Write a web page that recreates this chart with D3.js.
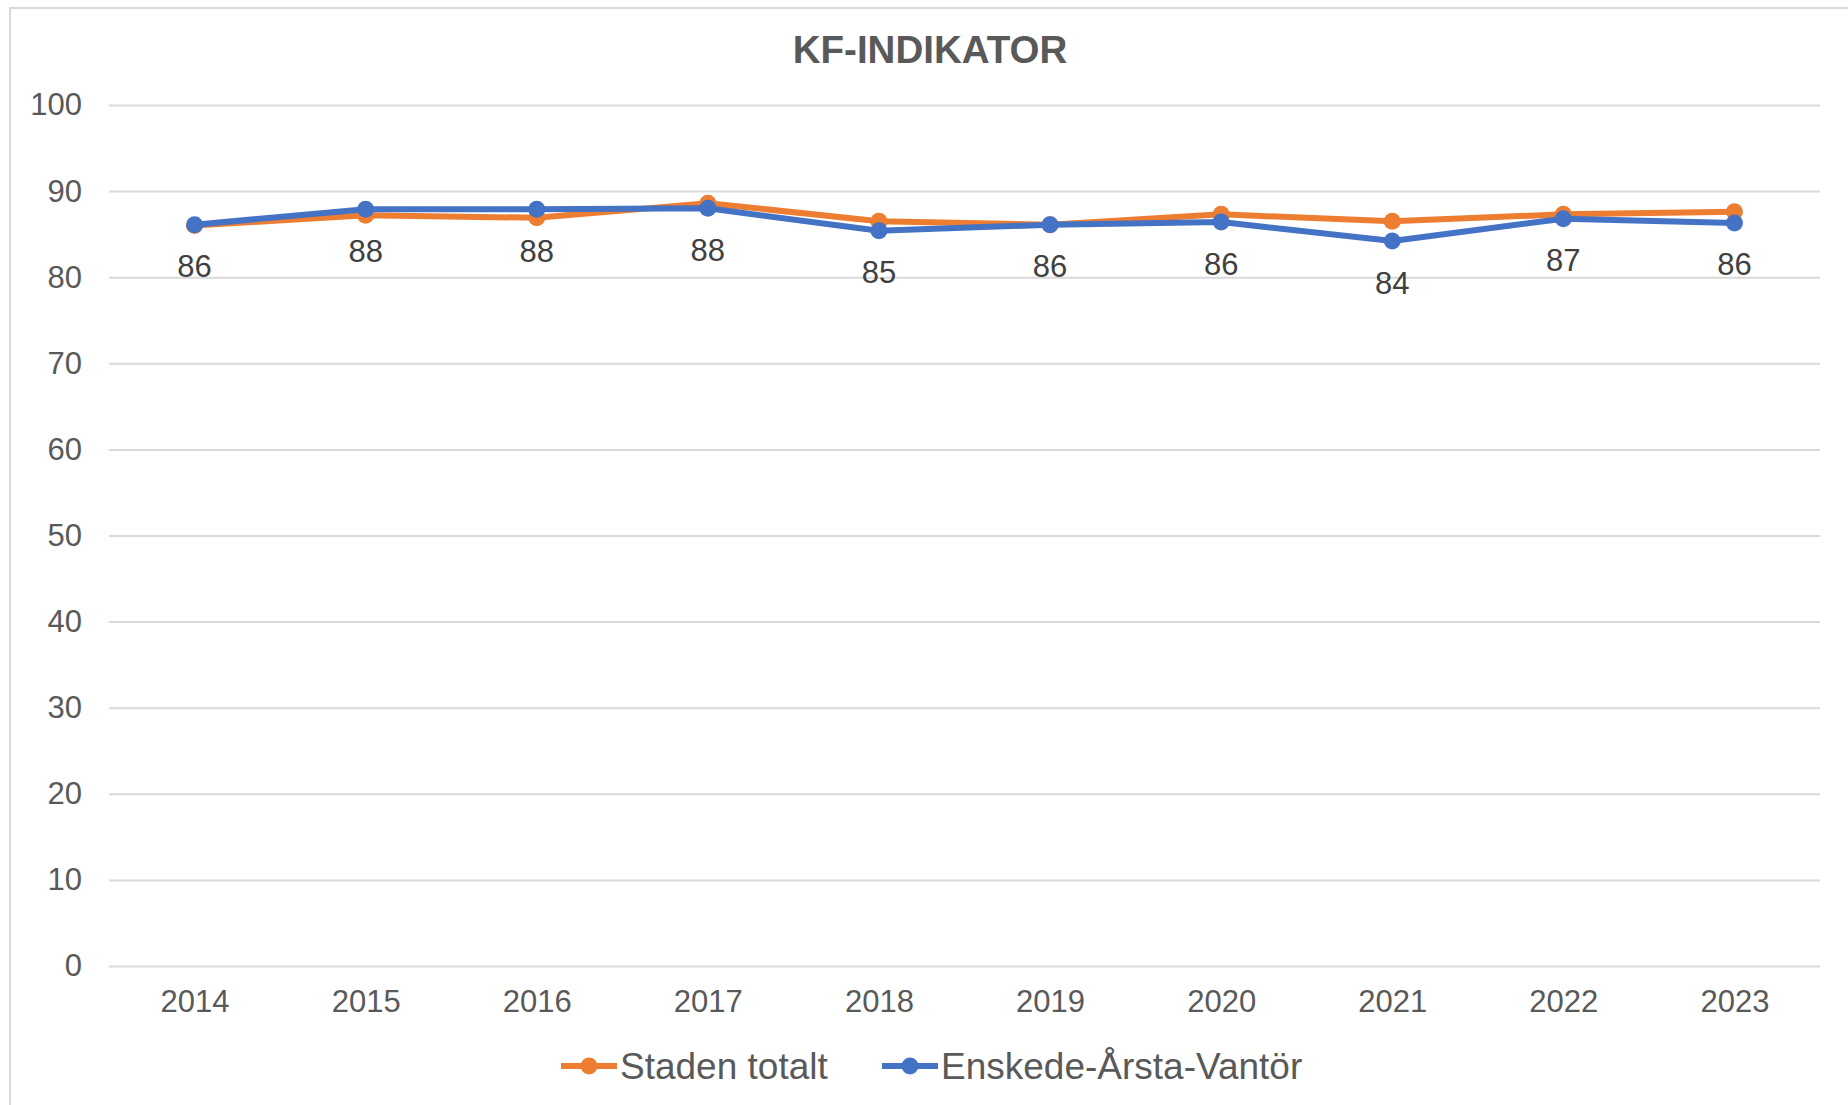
<!DOCTYPE html>
<html>
<head>
<meta charset="utf-8">
<script src="https://cdn.jsdelivr.net/npm/d3@7"></script>
<style>
  html, body { margin: 0; padding: 0; background: #fff; }
  svg { display: block; font-family: 'Liberation Sans', Arial, sans-serif; }
</style>
</head>
<body>
<div id="chart-container"></div>
<script>
// data
const years = ['2014', '2015', '2016', '2017', '2018', '2019', '2020', '2021', '2022', '2023']
const stadenTotalt = [86.0, 87.2, 86.9, 88.6, 86.5, 86.1, 87.3, 86.5, 87.3, 87.6]
const enskede = [86.1, 87.9, 87.9, 88.0, 85.4, 86.1, 86.4, 84.2, 86.8, 86.3]
const yTicks = [0, 10, 20, 30, 40, 50, 60, 70, 80, 90, 100]

const seriesList = [
  { name: 'Staden totalt', values: stadenTotalt, color: '#ED7D31', labels: false },
  { name: 'Enskede-Årsta-Vantör', values: enskede, color: '#4472C4', labels: true },
]

const viewBoxWidth = 1848
const viewBoxHeight = 1105

const plotLeft = 109
const plotRight = 1820
const plotTop = 105
const plotBottom = 966

const svg = d3
  .select('#chart-container')
  .append('svg')
  .attr('width', viewBoxWidth)
  .attr('height', viewBoxHeight)
  .attr('viewBox', `0 0 ${viewBoxWidth} ${viewBoxHeight}`)

// chart frame (only top and left edges visible in the picture)
svg
  .append('rect')
  .attr('x', 10)
  .attr('y', 8)
  .attr('width', viewBoxWidth)
  .attr('height', viewBoxHeight)
  .attr('fill', 'white')
  .attr('stroke', '#d9d9d9')
  .attr('stroke-width', 2)

const x = d3.scalePoint().domain(years).range([plotLeft, plotRight]).padding(0.5)
const y = d3.scaleLinear().domain([0, 100]).range([plotBottom, plotTop])

// title
svg
  .append('text')
  .attr('x', 930)
  .attr('y', 49)
  .attr('text-anchor', 'middle')
  .attr('dominant-baseline', 'central')
  .attr('font-size', 38.5)
  .attr('font-weight', 'bold')
  .attr('fill', '#595959')
  .text('KF-INDIKATOR')

// gridlines + y labels
const yAxis = d3
  .axisLeft(y)
  .tickValues(yTicks)
  .tickSize(-(plotRight - plotLeft))
  .tickPadding(27)

svg
  .append('g')
  .attr('transform', `translate(${plotLeft},0)`)
  .call(yAxis)
  .call(g => g.select('.domain').remove())
  .call(g => g.selectAll('.tick line').attr('stroke', '#d9d9d9').attr('stroke-width', 2))
  .call(g =>
    g
      .selectAll('.tick text')
      .attr('font-size', 31)
      .attr('fill', '#595959')
      .attr('font-family', "'Liberation Sans', Arial, sans-serif"),
  )

// x labels
const xAxis = d3.axisBottom(x).tickSize(0).tickPadding(24)

svg
  .append('g')
  .attr('transform', `translate(0,${plotBottom})`)
  .call(xAxis)
  .call(g => g.select('.domain').remove())
  .call(g =>
    g
      .selectAll('.tick text')
      .attr('font-size', 31)
      .attr('fill', '#595959')
      .attr('font-family', "'Liberation Sans', Arial, sans-serif"),
  )

const line = d3
  .line()
  .x((d, i) => x(years[i]))
  .y(d => y(d))

seriesList.forEach(s => {
  const g = svg.append('g')

  g.append('path')
    .attr('d', line(s.values))
    .attr('fill', 'none')
    .attr('stroke', s.color)
    .attr('stroke-width', 6)
    .attr('stroke-linejoin', 'round')

  g.selectAll('circle')
    .data(s.values)
    .join('circle')
    .attr('cx', (d, i) => x(years[i]))
    .attr('cy', d => y(d))
    .attr('r', 8.5)
    .attr('fill', s.color)
})

// data labels under the blue series
seriesList
  .filter(s => s.labels)
  .forEach(s => {
    svg
      .append('g')
      .selectAll('text')
      .data(s.values)
      .join('text')
      .attr('x', (d, i) => x(years[i]))
      .attr('y', d => y(d) + 42)
      .attr('text-anchor', 'middle')
      .attr('dominant-baseline', 'central')
      .attr('font-size', 31)
      .attr('fill', '#404040')
      .text(d => d3.format('.0f')(d))
  })

// legend
const legendItems = [
  { s: seriesList[0], x: 561 },
  { s: seriesList[1], x: 882 },
]

legendItems.forEach(({ s, x: lx }) => {
  const g = svg.append('g').attr('transform', `translate(${lx},1066)`)
  g.append('line')
    .attr('x1', 0)
    .attr('x2', 56)
    .attr('stroke', s.color)
    .attr('stroke-width', 6)
  g.append('circle').attr('cx', 28).attr('r', 8.5).attr('fill', s.color)
  g.append('text')
    .attr('x', 59)
    .attr('dominant-baseline', 'central')
    .attr('font-size', 37)
    .attr('fill', '#595959')
    .text(s.name)
})
</script>
</body>
</html>
